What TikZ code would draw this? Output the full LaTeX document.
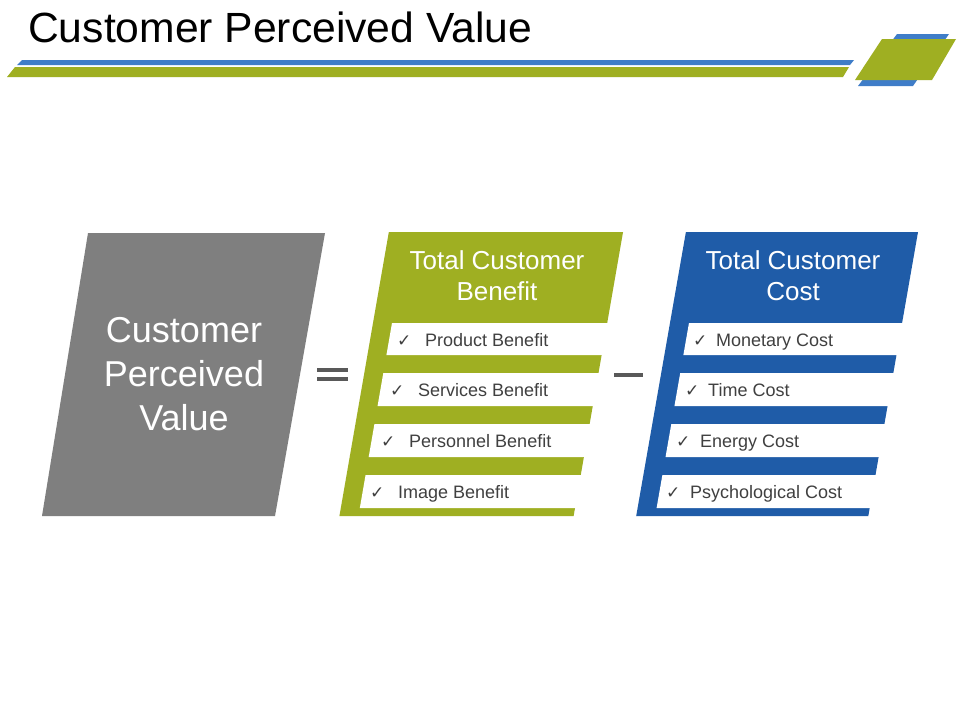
\documentclass[tikz,border=0pt]{standalone}
\usepackage{fontspec}
\setmainfont{Liberation Sans}
\newfontfamily\dejavu{DejaVu Sans}
\definecolor{cpvgreen}{HTML}{9FAF22}
\definecolor{cpvblue}{HTML}{1F5CA8}
\definecolor{barblue}{HTML}{3F7DC8}
\definecolor{cpvgray}{HTML}{7F7F7F}
\definecolor{signgray}{HTML}{595959}
\definecolor{itemtext}{HTML}{404040}
\tikzset{
  rowtext/.style={anchor=base west, inner sep=0pt, text=itemtext, font=\fontsize{18}{21}\selectfont},
  chk/.style={anchor=base west, inner sep=0pt, text=itemtext, font=\dejavu\fontsize{17}{19}\selectfont},
  headtext/.style={align=center, text=white, inner sep=0pt, font=\fontsize{26}{31}\selectfont},
}
\begin{document}
\begin{tikzpicture}[x=1pt,y=-1pt]
\useasboundingbox (0,0) rectangle (960,720);
\fill[white] (0,0) rectangle (960,720);
% header
\node[anchor=base west, inner sep=0pt, font=\fontsize{41}{48}\selectfont] (title) at (28,42) {\scalebox{1.04}[1.03]{Customer Perceived Value}};
\fill[barblue] (22,60) -- (854,60) -- (850,65) -- (17,65) -- cycle;
\fill[cpvgreen] (15,67) -- (849,67) -- (843,77) -- (7,77) -- cycle;
\fill[barblue] (897,34) -- (949,34) -- (913,86) -- (858,86) -- cycle;
\fill[cpvgreen] (882,39) -- (956,39) -- (932,80) -- (855,80) -- cycle;
% gray block
\fill[cpvgray] (88,233) -- (325,233) -- (275,516) -- (42,516) -- cycle;
\node[align=center, text=white, inner sep=0pt, font=\fontsize{36}{44}\selectfont] (cpv) at (184,374) {Customer\\Perceived\\Value};
% signs
\fill[signgray] (317,368) rectangle (348,372);
\fill[signgray] (317,377) rectangle (348,381);
\fill[signgray] (614,373) rectangle (643,377);
% green block
\begin{scope}[xslant=0.174]
  \fill[cpvgreen] (429.2,232) rectangle (663.4,516);
  \foreach \a/\b in {323/355,373/406,424/457,475/508}
    \fill[white] (448.2,\a) rectangle (668.4,\b);
\end{scope}
% blue block
\begin{scope}[xslant=0.175]
  \fill[cpvblue] (726.5,232) rectangle (958.6,516);
  \foreach \a/\b in {323/355,373/406,424/457,475/508}
    \fill[white] (745.5,\a) rectangle (963.6,\b);
\end{scope}
\node[headtext] (tcb) at (497,276) {Total Customer\\Benefit};
\node[headtext] (tcc) at (793,276) {Total Customer\\Cost};
% green items
\node[chk] (gc1) at (397,346.5) {✓};
\node[rowtext] (g1) at (425,346.5) {Product Benefit};
\node[chk] (gc2) at (390,396.5) {✓};
\node[rowtext] (g2) at (418,396.5) {Services Benefit};
\node[chk] (gc3) at (381,447.5) {✓};
\node[rowtext] (g3) at (409,447.5) {Personnel Benefit};
\node[chk] (gc4) at (370,498.5) {✓};
\node[rowtext] (g4) at (398,498.5) {Image Benefit};
% blue items
\node[chk] (bc1) at (693,346.5) {✓};
\node[rowtext] (b1) at (716,346.5) {Monetary Cost};
\node[chk] (bc2) at (685,396.5) {✓};
\node[rowtext] (b2) at (708,396.5) {Time Cost};
\node[chk] (bc3) at (676,447.5) {✓};
\node[rowtext] (b3) at (700,447.5) {Energy Cost};
\node[chk] (bc4) at (666,498.5) {✓};
\node[rowtext] (b4) at (690,498.5) {Psychological Cost};
\end{tikzpicture}
\end{document}
